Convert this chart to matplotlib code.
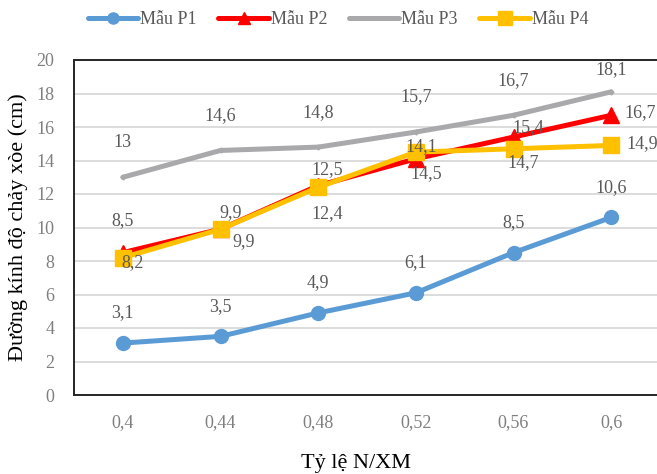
import matplotlib
matplotlib.use("Agg")
import matplotlib.pyplot as plt
import numpy as np

# ── Data ──────────────────────────────────────────────────────────────────────
ratios = ["0,4", "0,44", "0,48", "0,52", "0,56", "0,6"]
p1 = [3.1, 3.5, 4.9, 6.1, 8.5, 10.6]
p2 = [8.5, 9.9, 12.5, 14.1, 15.4, 16.7]
p3 = [13.0, 14.6, 14.8, 15.7, 16.7, 18.1]
p4 = [8.2, 9.9, 12.4, 14.5, 14.7, 14.9]
names = ["Mẫu P1", "Mẫu P2", "Mẫu P3", "Mẫu P4"]

# label offsets in pixels (dx, dy), hand-placed to avoid overlaps
off_p1 = [(0, 30)] * 6
off_p2 = [(0, 32), (10, 17), (9, 16), (5, 12), (15, 9), (29, 3)]
off_p3 = [(0, 35)] * 5 + [(0, 22)]
off_p4 = [(10, -5), (23, -12), (9, -26), (10, -21), (10, -14), (31, 2)]

plt.rcParams["font.family"] = ["Liberation Serif", "DejaVu Serif"]

W, H, DPI = 657, 474, 100
fig = plt.figure(figsize=(W / DPI, H / DPI), dpi=DPI)
ax = fig.add_axes([74 / W, 79 / H, 586 / W, 335 / H])

x = np.arange(len(ratios))
series = [
    (p1, "#5B9BD5", "o", 10, off_p1),
    (p2, "#FF0000", "^", 11, off_p2),
    (p3, "#A9A9AC", "D", 2.5, off_p3),
    (p4, "#FFC000", "s", 12, off_p4),
]

lines = []
for (vals, col, mk, ms, offs), name in zip(series, names):
    ln, = ax.plot(x, vals, color=col, lw=3.6, marker=mk, ms=ms,
                  solid_capstyle="round", label=name, zorder=3)
    lines.append(ln)
    for xi, v, (dx, dy) in zip(x, vals, offs):
        ax.annotate(f"{v:g}".replace(".", ","), (xi, v),
                    xytext=(dx * 0.72, dy * 0.72), textcoords="offset points",
                    ha="center", va="center", fontsize=13, color="#595959",
                    zorder=4)

ax.set_xlim(-0.5, len(ratios) - 0.5)
ax.set_ylim(0, 20)
ax.set_xticks(x)
ax.set_xticklabels(ratios)
ax.set_yticks(np.arange(0, 21, 2))
ax.tick_params(axis="both", length=0, labelsize=13, labelcolor="#7F7F7F")
ax.tick_params(axis="x", pad=14)
ax.tick_params(axis="y", pad=14)
ax.grid(axis="y", color="#D9D9D9", lw=1.3)
ax.set_axisbelow(True)
for sp in ax.spines.values():
    sp.set_color("#262626")
    sp.set_linewidth(1.4)

ax.set_ylabel("Đường kính độ chảy xòe (cm)", fontsize=16, labelpad=6)
ax.set_xlabel("Tỷ lệ N/XM", fontsize=16, labelpad=12)
# centre the x title on the visible part of the plot
ax.xaxis.set_label_coords(0.481, -0.175)

fig.legend(handles=lines, loc="center", bbox_to_anchor=(338 / W, 1 - 20 / H),
           ncol=4, frameon=False, fontsize=13, labelcolor="#595959",
           handlelength=2.8, handletextpad=0.1, columnspacing=1.2,
           markerscale=0.8)

fig.savefig("out.png", dpi=DPI)
